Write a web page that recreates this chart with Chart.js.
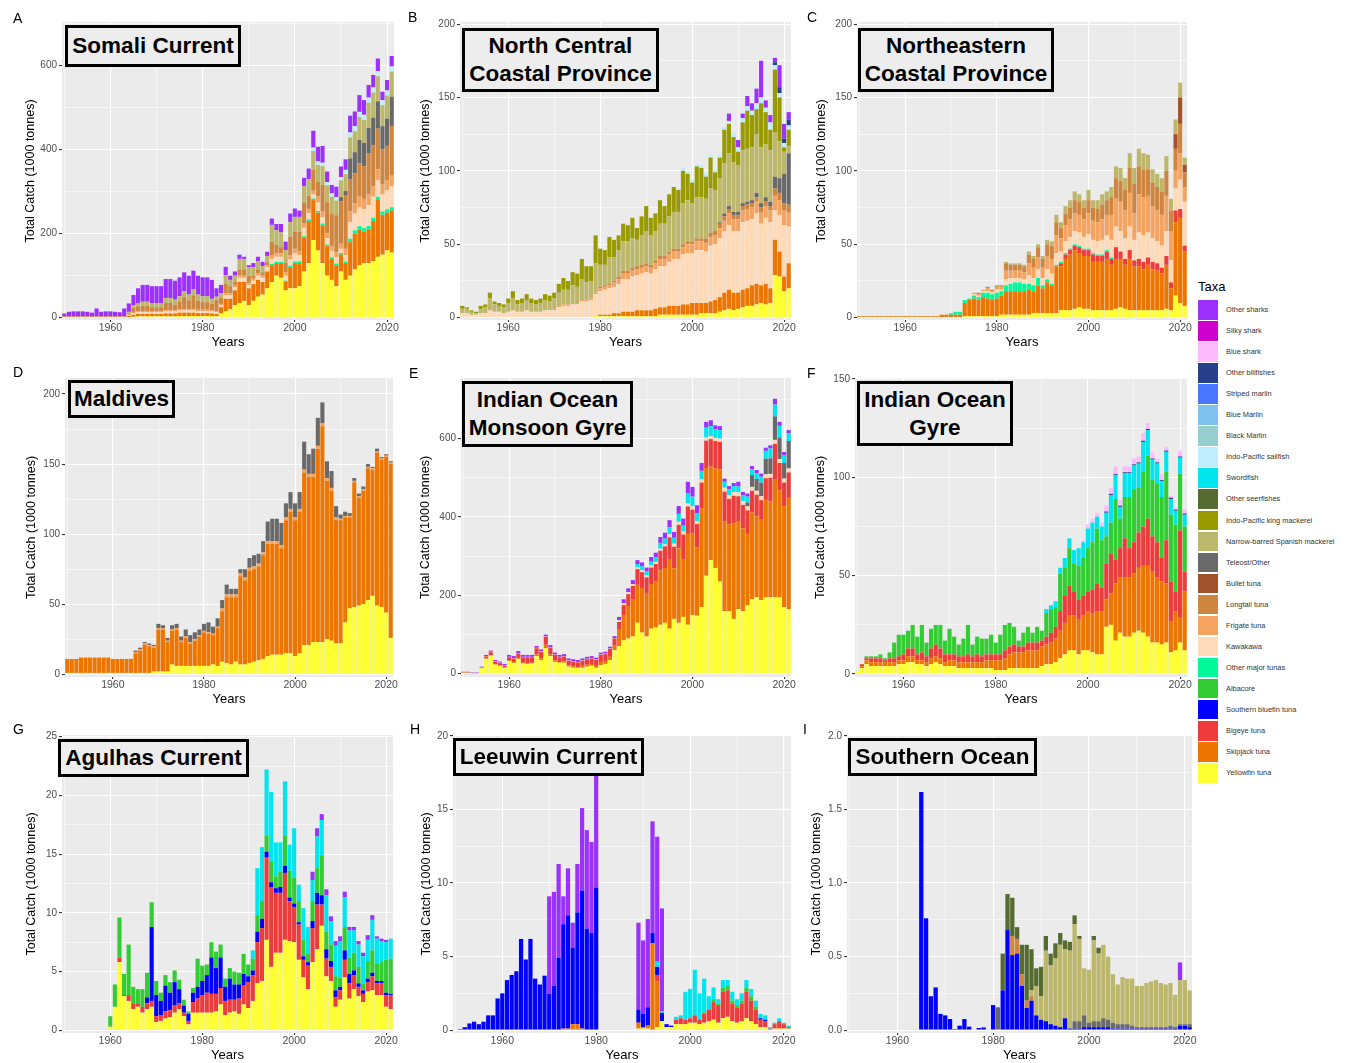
<!DOCTYPE html>
<html>
<head>
<meta charset="utf-8">
<script src="https://cdn.jsdelivr.net/npm/chart.js@4.4.1/dist/chart.umd.min.js"></script>
<style>
  body { margin: 0; background: #fff; width: 1351px; height: 1063px; overflow: hidden; position: relative;
         font-family: 'Liberation Sans', Arial, Helvetica, sans-serif; }
  canvas { position: absolute; }
  .tag { position: absolute; font-size: 14px; line-height: 14px; color: #000; }
  .box { position: absolute; z-index: 2; box-sizing: border-box; border: 3px solid #000; background: #EDEDED;
         display: flex; align-items: center; justify-content: center; text-align: center;
         font-weight: bold; font-size: 22.5px; line-height: 28px; color: #000; white-space: nowrap; }
  .ltitle { position: absolute; left: 1198px; top: 279px; font-size: 13px; color: #000; }
  .lkey { position: absolute; left: 1198px; width: 20px; height: 19.5px; }
  .ltext { position: absolute; left: 1226px; font-size: 7.4px; line-height: 19.5px; color: #333; white-space: nowrap; }
</style>
</head>
<body>
<script>
// ---------------------------------------------------------------
// Tuna / shark catch by taxon, nine Indian Ocean provinces
// values in 1000 tonnes, one bar per year 1950-2021
// ---------------------------------------------------------------

const YEARS = [
  1950,1951,1952,1953,1954,1955,1956,1957,1958,1959,
  1960,1961,1962,1963,1964,1965,1966,1967,1968,1969,
  1970,1971,1972,1973,1974,1975,1976,1977,1978,1979,
  1980,1981,1982,1983,1984,1985,1986,1987,1988,1989,
  1990,1991,1992,1993,1994,1995,1996,1997,1998,1999,
  2000,2001,2002,2003,2004,2005,2006,2007,2008,2009,
  2010,2011,2012,2013,2014,2015,2016,2017,2018,2019,
  2020,2021
];
const X_TICK_LABELS = ['1960', '1980', '2000', '2020'];

// legend order (top of legend = top of stack)
const TAXA = [
  'Other sharks', 'Silky shark', 'Blue shark', 'Other billfishes', 'Striped marlin', 'Blue Marlin',
  'Black Marlin', 'Indo-Pacific sailfish', 'Swordfish', 'Other seerfishes', 'Indo-Pacific king mackerel',
  'Narrow-barred Spanish mackerel', 'Teleost/Other', 'Bullet tuna', 'Longtail tuna', 'Frigate tuna',
  'Kawakawa', 'Other major tunas', 'Albacore', 'Southern bluefin tuna', 'Bigeye tuna', 'Skipjack tuna',
  'Yellowfin tuna'
];
const TAXA_COLORS = [
  '#9B30FF', '#CD00CD', '#FFBBFF', '#27408B', '#4876FF', '#7EC0EE',
  '#96CDCD', '#BFEFFF', '#00E5EE', '#556B2F', '#999900',
  '#BDB76B', '#696969', '#A0522D', '#CD853F', '#F4A460',
  '#FFDAB9', '#00FA9A', '#32CD32', '#0000FF', '#EE3B3B', '#EE7600',
  '#FFFF33'
];

// ---------------- A  Somali Current ----------------
const A_yellowfin = [0,0,0,0,0,0,0,0,0,0, 0,0,0,0,0,2,3,3,3,3, 3,3,3,3,3,4,4,4,4,4, 4,4,4,3,10,15,20,30,35,40,
  30,40,50,55,70,85,100,95,65,70, 70,75,110,130,185,160,130,100,90,75, 110,90,100,115,125,130,130,135,145,150, 160,155];
const A_skipjack = [3,3,3,3,3,3,3,3,3,3, 3,3,3,3,4,5,6,6,6,6, 6,6,7,7,7,8,8,8,8,7, 7,7,6,6,15,30,25,35,50,45,
  40,40,40,30,40,40,30,35,20,50, 60,55,80,100,95,90,90,70,50,50, 40,40,80,85,85,75,80,95,135,95, 90,100];
const A_othermajor = [0,0,0,0,0,0,0,0,0,0, 0,0,0,0,0,0,0,0,0,0, 0,0,0,0,0,0,0,0,0,0, 0,0,0,0,0,0,0,0,0,0,
  0,0,0,0,0,3,3,3,3,4, 4,4,4,4,4,4,4,4,4,4, 4,4,8,8,8,8,8,8,8,8, 8,8];
const A_kawakawa = [0,0,0,0,0,0,0,0,0,0, 0,0,0,0,2,3,4,4,4,4, 4,4,5,5,5,5,5,5,5,5, 5,5,5,4,5,8,8,8,10,10,
  8,8,10,10,10,12,12,12,12,15, 20,15,20,15,10,20,15,15,15,15, 10,15,40,40,45,45,50,50,40,40, 45,50];
const A_frigate = [0,0,0,0,0,0,0,0,0,0, 0,0,0,0,1,2,2,3,3,3, 3,3,3,3,3,3,3,3,3,3, 3,3,3,2,3,5,5,5,5,5,
  5,5,5,5,5,8,8,8,8,10, 10,10,10,10,8,15,15,12,12,12, 12,15,25,25,25,25,25,25,25,25, 25,25];
const A_longtail = [0,0,0,0,0,0,0,0,0,0, 0,0,0,0,3,11,12,12,12,9, 9,9,17,17,13,19,29,21,33,22, 18,18,15,27,15,23,17,7,15,15,
  17,7,10,8,7,33,20,15,23,44, 41,46,49,31,50,35,62,74,77,88, 101,128,76,71,80,78,99,98,97,83, 81,118];
const A_teleost = [0,0,0,0,0,0,0,0,0,0, 0,0,0,0,0,0,0,0,0,0, 0,0,0,0,0,0,0,0,0,0, 0,0,0,0,0,0,0,0,0,0,
  0,0,0,0,0,0,0,0,0,0, 0,0,0,0,0,0,0,0,0,0, 10,10,50,50,55,55,60,65,65,55, 65,70];
const A_narrowbarred = [0,0,0,0,0,0,0,0,0,0, 0,0,0,0,4,6,8,10,10,10, 10,10,12,12,12,12,14,14,14,14, 14,14,12,8,10,20,15,15,25,25,
  20,20,20,15,15,40,35,35,30,35, 35,35,40,40,45,40,45,40,40,35, 40,40,50,50,55,55,60,60,60,50, 55,60];
const A_sailfish = [0,0,0,0,0,0,0,0,0,0, 0,0,0,0,0,0,0,0,0,0, 0,0,0,0,0,0,0,0,0,0, 0,0,0,0,0,0,0,0,0,0,
  0,0,0,0,0,0,0,0,0,0, 0,0,0,0,8,8,8,8,8,8, 8,10,12,12,12,12,12,12,12,12, 12,12];
const A_othersharks = [7,11,12,12,12,11,9,19,11,12, 12,11,10,19,20,25,35,40,40,40, 40,40,45,45,45,45,45,45,45,45, 45,45,45,20,20,20,10,10,10,5,
  5,10,10,10,10,15,15,20,20,20, 20,15,20,25,40,35,40,25,20,25, 25,25,40,35,40,35,30,30,30,20, 25,25];
const A_YTICKS = [0, 100, 200, 300, 400, 500, 600, 700];
const A_YLABELS = ['0', '', '200', '', '400', '', '600', ''];

// ---------------- B  North Central Coastal Province ----------------
const B_yellowfin = [0,0,0,0,0,0,0,0,0,0, 0,0,0,0,0,0,0,0,0,0, 0,0,0,0,0,0,0,0,0,1, 1,1,1,1,1,1,1,1,1,1,
  1,1,1,2,2,2,2,2,2,2, 2,2,3,3,3,3,4,5,6,5, 6,7,8,8,9,10,9,10,29,28, 18,20];
const B_skipjack = [0,0,0,0,0,0,0,0,0,0, 0,0,0,0,0,0,0,0,0,0, 0,0,0,0,0,0,0,0,0,0, 1,1,1,2,2,3,3,3,4,4,
  4,4,5,5,5,6,6,6,7,7, 8,8,7,7,8,9,10,12,13,12, 11,12,12,14,14,12,14,10,24,17, 10,17];
const B_kawakawa = [3,3,2,2,3,3,5,4,4,3, 4,5,4,4,5,4,4,4,5,5, 5,7,8,8,9,9,11,11,12,15, 16,17,18,18,20,22,22,24,24,25,
  26,25,27,28,28,30,32,32,34,35, 34,36,36,35,38,38,40,42,44,42, 42,46,46,45,48,42,45,45,20,25, 35,25];
const B_frigate = [0,0,0,0,0,0,0,0,0,0, 0,0,0,0,0,0,0,0,0,0, 1,1,1,1,1,1,1,1,1,1, 2,2,2,3,3,4,4,4,4,4,
  4,4,4,5,5,5,5,5,5,6, 6,6,6,6,6,6,7,7,8,8, 8,8,8,8,8,8,8,8,10,10, 10,10];
const B_longtail = [0,0,0,0,0,0,0,0,0,0, 0,0,0,0,0,0,0,0,0,0, 0,0,0,0,0,0,0,0,0,0, 1,1,1,1,2,2,2,2,2,2,
  2,2,2,2,2,2,2,2,2,2, 2,2,2,3,3,3,3,3,3,3, 3,3,3,3,3,3,3,3,5,5, 5,5];
const B_teleost = [0,0,0,0,0,0,0,0,0,0, 0,0,0,0,0,0,0,0,0,0, 0,0,0,0,0,0,0,0,0,0, 0,0,0,0,0,0,0,0,0,0,
  0,0,0,0,0,0,0,0,0,0, 0,0,0,0,0,0,1,2,2,2, 2,2,2,2,3,3,3,3,8,10, 20,35];
const B_narrowbarred = [3,3,2,1,3,4,8,5,4,4, 6,8,5,6,7,6,5,6,7,6, 7,9,10,10,12,11,14,12,12,20, 15,14,18,16,18,20,20,20,18,20,
  22,20,20,22,22,24,25,25,28,28, 26,28,28,27,30,28,30,34,36,34, 32,36,36,36,40,38,36,35,30,25, 15,5];
const B_kingmackerel = [2,1,1,1,2,2,4,2,2,2, 3,5,3,3,4,3,3,3,4,4, 4,6,8,6,9,9,14,11,10,19, 11,10,14,12,10,12,11,14,8,13,
  17,12,12,16,12,15,17,15,22,18, 14,21,20,15,21,12,14,23,20,17, 9,19,26,22,17,30,22,14,43,30, 3,11];
const B_sailfish = [0,0,0,0,0,0,0,0,0,0, 0,0,0,0,0,0,0,0,0,0, 0,0,0,0,0,0,0,0,0,0, 0,0,0,0,0,0,0,0,0,0,
  0,0,0,0,0,0,0,1,2,2, 2,2,2,2,2,2,2,2,2,3, 3,3,3,3,4,4,3,5,3,3, 3,3];
const B_otherbillfishes = [0,0,0,0,0,0,0,0,0,0, 0,0,0,0,0,0,0,0,0,0, 0,0,0,0,0,0,0,0,0,0, 0,0,0,0,0,0,0,0,0,0,
  0,0,0,0,0,0,0,0,0,0, 0,0,0,0,0,0,0,0,0,0, 0,0,0,0,0,0,0,0,2,4, 3,4];
const B_othersharks = [0,0,0,0,0,0,0,0,0,0, 0,0,0,0,0,0,0,0,0,0, 0,0,0,0,0,0,0,0,0,0, 0,0,0,0,0,0,0,0,0,0,
  0,0,0,0,0,0,0,0,0,0, 0,0,0,0,0,0,0,0,5,0, 5,3,7,5,10,25,5,5,3,15, 10,5];
const B_YTICKS = [0, 25, 50, 75, 100, 125, 150, 175, 200];
const B_YLABELS = ['0', '', '50', '', '100', '', '150', '', '200'];

// ---------------- C  Northeastern Coastal Province ----------------
const C_yellowfin = [0,0,0,0,0,0,0,0,0,0, 0,0,0,0,0,0,0,0,0,0, 0,0,0,1,1,1,1,1,1,1, 1,2,2,2,2,2,2,2,3,3,
  3,3,3,3,5,5,5,6,7,6, 6,5,5,5,5,5,6,7,6,5, 5,5,5,5,5,5,5,6,5,15, 10,8];
const C_skipjack = [1,1,1,1,1,1,1,1,1,1, 1,1,1,1,1,1,1,1,2,2, 2,2,2,9,11,12,11,13,12,11, 12,13,16,16,16,16,16,17,15,19,
  17,21,19,32,30,35,38,40,37,36, 36,33,33,33,35,31,34,33,30,35, 30,30,28,31,28,27,25,30,15,50, 58,37];
const C_bigeye = [0,0,0,0,0,0,0,0,0,0, 0,0,0,0,0,0,0,0,0,0, 0,0,0,0,0,0,0,0,0,0, 0,0,0,0,0,0,0,0,0,0,
  0,0,0,0,2,3,3,3,4,4, 4,5,4,4,5,4,8,5,4,6, 4,5,5,5,5,5,4,6,4,8, 6,4];
const C_othermajor = [0,0,0,0,0,0,0,0,0,0, 0,0,0,0,0,0,0,0,0,0, 1,2,2,2,1,2,2,3,4,4, 4,3,4,5,6,6,5,4,4,5,
  2,2,1,1,1,1,1,1,1,1, 1,1,1,1,1,1,0,0,0,0, 0,0,0,0,0,0,0,0,0,0, 0,0];
const C_kawakawa = [0,0,0,0,0,0,0,0,0,0, 0,0,0,0,0,0,0,0,0,0, 0,0,0,0,0,1,1,1,1,1, 2,1,4,4,3,3,3,6,5,6,
  5,7,7,8,7,8,8,9,9,8, 10,9,9,10,10,12,14,14,14,16, 14,18,18,17,16,15,15,17,15,15, 20,30];
const C_frigate = [0,0,0,0,0,0,0,0,0,0, 0,0,0,0,0,0,0,0,0,0, 0,0,0,0,0,1,1,1,2,1, 2,2,6,5,5,5,5,8,7,8,
  7,9,10,12,9,11,12,12,12,12, 14,13,13,14,14,17,19,20,19,23, 18,26,26,25,22,21,21,24,20,12, 18,10];
const C_longtail = [0,0,0,0,0,0,0,0,0,0, 0,0,0,0,0,0,0,0,0,0, 0,0,0,0,0,0,1,0,1,1, 1,1,5,4,4,4,4,6,6,7,
  6,8,9,9,7,8,8,9,9,8, 9,9,9,10,10,12,14,14,14,17, 20,19,19,18,16,16,16,17,14,15, 20,10];
const C_bullet = [0,0,0,0,0,0,0,0,0,0, 0,0,0,0,0,0,0,0,0,0, 0,0,0,0,0,0,0,0,0,0, 0,0,0,0,0,0,0,0,0,0,
  0,0,0,0,0,0,0,0,0,0, 0,0,0,0,0,0,0,0,0,0, 0,0,0,0,0,0,0,0,0,10, 18,5];
const C_narrowbarred = [0,0,0,0,0,0,0,0,0,0, 0,0,0,0,0,0,0,0,0,0, 0,0,0,0,0,0,0,0,0,0, 0,0,1,1,1,1,1,2,2,2,
  2,3,3,5,4,5,5,6,5,5, 7,5,6,7,6,7,8,9,8,10, 11,12,11,10,9,9,9,10,8,10, 10,5];
const C_YTICKS = [0, 25, 50, 75, 100, 125, 150, 175, 200];
const C_YLABELS = ['0', '', '50', '', '100', '', '150', '', '200'];

// ---------------- D  Maldives ----------------
const D_yellowfin = [1,1,1,1,1,1,1,1,1,1, 1,1,1,1,1,1,1,1,1,2, 2,2,2,7,6,6,6,6,6,6, 6,6,7,6,9,8,7,9,7,7,
  8,9,10,11,13,14,14,14,15,15, 13,15,21,21,23,23,23,25,24,22, 22,37,47,48,49,50,53,56,49,48, 44,26];
const D_skipjack = [10,10,10,11,11,11,11,11,11,11, 10,10,10,10,10,14,16,20,19,17, 30,30,21,24,26,17,20,16,18,21, 24,23,21,27,36,47,48,46,63,60,
  66,66,67,74,80,79,79,76,95,101, 97,101,123,120,118,138,154,113,107,88, 88,75,65,89,77,81,94,90,109,105, 111,124];
const D_frigate = [0,0,0,0,0,0,0,0,0,0, 0,0,0,0,0,1,1,1,1,1, 1,1,1,1,1,1,1,1,1,1, 1,1,1,1,2,2,2,2,2,2,
  2,2,2,2,2,2,2,2,2,2, 2,2,2,2,2,2,2,2,2,2, 1,1,1,1,1,1,1,1,1,1, 1,1];
const D_teleost = [0,0,0,0,0,0,0,0,0,0, 0,0,0,0,0,1,1,1,1,1, 3,2,2,3,3,3,5,5,5,4, 5,7,5,6,6,7,4,4,3,6,
  7,8,7,8,14,16,16,16,10,12, 10,12,20,14,18,20,15,12,12,8, 3,3,2,2,2,2,2,1,2,1, 1,1];
const D_YTICKS = [0, 25, 50, 75, 100, 125, 150, 175, 200];
const D_YLABELS = ['0', '', '50', '', '100', '', '150', '', '200'];

// ---------------- E  Indian Ocean Monsoon Gyre ----------------
const E_yellowfin = [2,2,1,1,14,38,46,23,20,15, 32,27,38,26,25,26,45,35,65,45, 30,28,28,18,15,15,15,18,20,15, 22,25,35,60,70,85,90,95,130,105,
  95,115,118,125,130,115,140,130,145,125, 150,148,170,250,290,270,235,160,160,140, 165,160,175,190,195,188,195,195,195,195, 170,165];
const E_skipjack = [1,1,0,0,0,1,1,1,1,1, 2,2,2,2,2,2,4,4,9,4, 4,2,4,3,4,2,5,5,5,5, 8,7,8,12,42,65,83,94,97,114,
  109,114,117,139,140,178,129,190,148,232, 209,174,253,275,239,254,287,230,221,244, 223,211,182,222,207,205,249,245,302,273, 258,284];
const E_bigeye = [1,1,1,1,2,5,8,7,6,5, 8,10,12,14,15,14,16,17,20,18, 14,12,12,12,12,12,13,14,14,15, 18,18,20,18,20,25,30,35,40,40,
  42,42,45,50,55,55,55,60,62,70, 60,60,65,70,70,70,70,75,65,70, 65,60,60,55,55,50,55,60,90,70, 60,65];
const E_kawakawa = [0,0,0,0,1,1,1,1,1,1, 1,1,1,1,1,1,1,1,1,1, 1,1,1,1,1,1,1,1,1,1, 1,1,1,1,5,5,5,5,5,5,
  5,5,5,5,5,8,8,8,8,8, 8,8,8,8,8,8,8,10,10,10, 10,10,10,10,10,10,10,10,10,10, 10,10];
const E_teleost = [0,0,0,0,0,0,0,0,0,0, 0,0,0,0,0,0,0,0,0,0, 0,0,0,0,0,0,0,0,0,0, 0,0,0,0,0,0,0,0,0,0,
  0,0,0,0,0,0,0,0,0,0, 0,0,0,0,0,0,0,0,0,0, 0,0,10,30,30,35,40,40,60,55, 40,70];
const E_swordfish = [0,0,0,0,0,0,0,0,0,0, 0,0,0,0,0,0,0,0,0,0, 0,0,0,0,0,0,0,0,0,0, 0,0,0,0,0,0,0,0,8,10,
  10,10,12,15,15,18,15,20,15,25, 25,20,22,25,25,22,22,15,15,15, 15,15,15,15,15,15,20,25,30,30, 20,20];
const E_othersharks = [1,1,1,1,1,3,3,3,3,3, 5,5,5,5,5,5,5,5,5,5, 5,5,5,5,5,5,5,5,5,5, 5,5,5,5,8,10,10,10,10,10,
  10,12,12,15,15,18,15,20,18,30, 25,20,20,15,15,10,10,8,8,8, 12,8,8,8,8,8,8,8,15,10, 8,8];
const E_YTICKS = [0, 100, 200, 300, 400, 500, 600, 700];
const E_YLABELS = ['0', '', '200', '', '400', '', '600', ''];

// ---------------- F  Indian Ocean Gyre ----------------
const F_yellowfin = [1,3,5,4,4,4,4,4,4,5, 5,6,6,5,5,4,5,6,5,4, 4,4,3,3,3,3,3,3,3,3, 2,2,2,3,3,3,3,3,3,3,
  4,5,5,6,8,10,12,12,10,12, 12,11,10,10,24,25,17,21,19,19, 21,22,21,19,16,16,15,16,11,12, 16,12];
const F_skipjack = [0,1,2,2,2,2,2,2,2,2, 2,3,3,2,2,2,3,3,3,2, 3,3,3,3,3,3,3,3,4,4, 5,5,6,7,8,8,8,9,9,9,
  10,10,11,12,14,16,18,18,18,18, 20,20,22,22,14,16,29,28,30,30, 30,32,34,36,36,33,32,30,16,20, 13,30];
const F_bigeye = [0,1,1,2,2,2,1,2,2,2, 3,4,4,3,4,3,5,6,5,4, 3,3,3,3,4,3,4,3,3,3, 3,3,4,4,4,3,3,4,4,4,
  3,4,5,6,10,14,15,12,10,10, 10,12,14,12,18,20,12,15,20,15, 16,18,20,24,18,18,12,22,20,10, 44,10];
const F_albacore = [0,0,1,1,1,2,1,3,8,11, 10,9,12,9,14,7,10,10,12,7, 13,9,6,9,15,6,9,9,8,10, 6,10,13,12,9,3,7,8,5,8,
  5,12,12,10,19,14,19,14,17,19, 22,24,28,24,14,16,31,15,21,26, 27,23,28,32,29,30,31,35,34,34, 29,23];
const F_swordfish = [0,0,0,0,0,0,0,0,0,0, 0,0,0,0,0,0,0,0,0,0, 0,0,0,0,0,0,0,0,0,0, 0,0,0,0,0,0,0,0,0,0,
  0,2,2,3,3,5,5,7,9,8, 10,10,6,7,12,14,12,6,12,12, 12,12,15,13,10,10,8,10,8,7, 8,6];
const F_blueshark = [0,0,0,0,0,0,0,0,0,0, 0,0,0,0,0,0,0,0,0,0, 0,0,0,0,0,0,0,0,0,0, 0,0,0,0,0,0,0,0,0,0,
  0,0,0,0,0,0,0,0,0,1, 2,2,2,2,3,3,4,3,3,3, 3,3,4,3,3,2,3,2,1,1, 3,2];
const F_otherbillfishes = [0,0,0,0,0,0,0,0,0,0, 0,0,0,0,0,0,0,0,0,0, 0,0,0,0,0,0,0,0,0,0, 0,0,0,0,0,0,0,0,0,0,
  0,0,0,0,0,0,0,0,0,0, 0,0,0,0,0.6,0.6,0.6,0.6,0.6,0.6, 0.6,0.6,0.6,0.6,0.6,0.6,0.6,0.6,0.6,0.6, 0.6,0.6];
const F_YTICKS = [0, 25, 50, 75, 100, 125, 150];
const F_YLABELS = ['0', '', '50', '', '100', '', '150'];

// ---------------- G  Agulhas Current ----------------
const G_yellowfin = [0,0,0,0,0,0,0,0,0,0, 0.3,2,5.8,2.9,2.5,1.8,2,1.5,1.8,2, 0.7,0.8,1,1.1,1.5,1.8,1.2,0.5,1.5,1.5,
  1.5,1.5,1.5,1.6,2.2,1.3,1.5,1.6,1.4,2.2, 1.9,2.5,4,4.2,7.7,5.4,6.6,6.6,7.7,7.6, 7.5,6,4.5,3.5,5.8,6.9,8.9,4.6,4.2,2,
  2.6,4.5,2.7,3.5,2.9,2.4,3.3,3.4,3,3, 2,1.8];
const G_bigeye = [0,0,0,0,0,0,0,0,0,0, 0,0,0.4,0.1,0.5,0.5,0.3,0.5,0.5,0.5, 0.5,0.5,0.6,0.6,0.6,0.5,0.3,0.3,0.9,1.2,
  1.5,1.7,1.6,1.5,1.4,1.2,1.1,1.0,1.3,1.6, 2.2,2.2,3.5,4.5,7,6.8,5.1,5.1,5.7,3.4, 3,3,1.5,2,2.9,3.8,1.8,1.5,1.2,0.8,
  0.8,1.5,1.3,1.2,0.8,0.7,0.8,1.2,1,1, 1,1.2];
const G_southernbluefin = [0,0,0,0,0,0,0,0,0,0, 0,0,0,0,0,0,0,0,0.5,6.3, 1.8,1.2,2.2,1.5,2,1.2,0.6,0.6,0.8,1,
  1.2,1.5,3.1,2.2,2.6,1.2,1.8,1.3,1.2,1.0, 0.5,0.4,0.9,0.8,0.5,0.4,0.4,0.5,0.6,0.3, 0.3,0.2,0.3,0.3,0.6,1.0,0.8,0.8,0.5,0.6,
  0.3,0.8,0.8,0.4,0.3,0.3,0.3,0.3,0.2,0.2, 0.2,0.1];
const G_albacore = [0,0,0,0,0,0,0,0,0,0, 0.9,1.9,3.4,1.8,4.3,1.4,1.2,1.5,2.1,2.1, 1.2,0.7,0.9,0.9,1,0.8,0.5,0.2,0.4,2.4,
  1.3,0.9,1.3,1.4,1.1,0.7,0.9,1.1,1.0,1.7, 1.0,1.0,1.4,1.5,1.4,1.8,1.0,1.3,2.6,2.3, 2.2,1.8,1.4,0.7,1.7,2.1,3.4,1.5,1.4,1.2,
  0.8,2,1.4,1.5,1.4,0.6,1.5,1.9,1.5,1.6, 2.8,3];
const G_swordfish = [0,0,0,0,0,0,0,0,0,0, 0,0,0,0,0,0,0,0,0,0, 0,0,0,0,0,0,0,0,0,0, 0,0,0,0,0,0,0,0,0,0,
  0,0.7,4.0,4.6,5.6,5.9,2.9,2.5,4.6,2.2, 4.2,1.4,2.7,2.3,1.8,2.7,3.0,3.1,2.0,2.6, 3.1,2.5,2.3,1.9,1.9,2.3,1.8,2.6,2.1,1.8, 1.5,1.7];
const G_othersharks = [0,0,0,0,0,0,0,0,0,0, 0,0,0,0,0,0,0,0,0,0, 0,0,0,0,0,0,0,0,0,0, 0,0,0,0,0,0,0,0,0,0,
  0,0,0,0,0,0,0,0,0,0, 0,0,0,0,0.7,0.7,0.5,0.5,0.4,0.4, 0.4,0.5,0.3,0.3,0.3,0.3,0.4,0.4,0.2,0.2, 0.2,0];
const G_YTICKS = [0, 2.5, 5, 7.5, 10, 12.5, 15, 17.5, 20, 22.5, 25];
const G_YLABELS = ['0', '', '5', '', '10', '', '15', '', '20', '', '25'];

// ---------------- H  Leeuwin Current ----------------
const H_yellowfin = [0,0,0,0,0,0,0,0,0,0, 0,0,0,0,0,0,0,0,0,0, 0,0,0,0,0,0,0,0,0,0, 0,0,0,0,0,0,0,0,0,0.1,
  0.1,0.1,0,0.2,0.6,0.2,0.2,0.4,0.4,0.4, 0.5,0.5,0.4,0.5,0.6,0.7,0.5,0.8,0.9,0.6, 0.5,0.6,0.8,0.6,0.4,0.2,0.2,0,0.1,0.1, 0.1,0.1];
const H_skipjack = [0,0,0,0,0,0,0,0,0,0, 0,0,0,0,0,0,0,0,0,0, 0,0,0,0.1,0.1,0.4,0.4,0.1,0,0, 0,0,0,0,0,0,0,0,0,0.4,
  0.1,0.2,5.9,3.1,0,0,0,0,0,0, 0,0,0,0,0,0,0,0,0,0, 0,0,0,0,0,0,0,0,0,0, 0,0];
const H_bigeye = [0,0,0,0,0,0,0,0,0,0, 0,0,0,0,0,0,0,0,0,0, 0,0,0,0,0,0,0,0,0,0, 0,0,0,0,0,0,0,0,0,0,
  0,0,0,0.45,0,0,0,0.3,0.4,0.3, 0.3,0.5,0.3,0.6,0.8,1.2,1.2,1.8,1.8,1.2, 1.0,1.2,1.8,1.4,1.0,0.5,0.4,0.1,0.3,0.5, 0.3,0.1];
const H_southernbluefin = [0,0.07,0.2,0.45,0.57,0.4,0.57,1.0,1.0,2.15, 2.5,3.4,3.75,4.0,6.2,4.8,6.2,3.5,3.1,3.7,
  2.45,3.0,4.9,7.1,7.7,5.2,7.6,9.4,6.9,6.6, 9.7,0,0,0,0,0,0,0,0,0.9, 0.9,1.25,0.7,0.55,0.57,0.2,0.1,0,0,0,
  0,0,0,0,0,0,0,0,0,0, 0,0,0,0,0,0.1,0.1,0,0,0, 0,0];
const H_albacore = [0,0,0,0,0,0,0,0,0,0, 0,0,0,0,0,0,0,0,0,0, 0,0,0,0,0,0,0,0,0,0, 0,0,0,0,0,0,0,0,0,0,
  0,0,0,0,0,0,0,0,0,0, 0,0,0,0.1,0,0.2,0.1,0.3,0.3,0.2, 0.2,0.2,0.3,0.3,0.2,0,0,0,0,0, 0,0];
const H_swordfish = [0,0,0,0,0,0,0,0,0,0, 0,0,0,0,0,0,0,0,0,0, 0,0,0,0,0,0,0,0,0,0, 0,0,0,0,0,0,0,0,0,0,
  0,0,0,0.35,0.1,0,0,0.2,0.2,1.9, 2.0,3.1,1.8,2.3,0.9,0.8,0.3,0.5,0.4,0.6, 0.4,0.5,0.5,0.5,0.4,0.3,0.3,0.1,0.1,0.2, 0.1,0.1];
const H_othersharks = [0,0,0,0,0,0,0,0,0,0, 0,0,0,0,0,0,0,0,0,0, 6.65,6.4,6.4,1.9,3.2,1.7,3.3,5.6,6.7,6.2, 7.6,0,0,0,0,0,0,0,0,5.9,
  5.0,6.0,7.6,8.5,7.0,0,0,0,0,0, 0,0,0,0,0,0,0,0,0,0, 0,0,0,0,0,0,0,0,0,0, 0,0];
const H_YTICKS = [0, 2.5, 5, 7.5, 10, 12.5, 15, 17.5, 20];
const H_YLABELS = ['0', '', '5', '', '10', '', '15', '', '20'];

// ---------------- I  Southern Ocean ----------------
const I_southernbluefin = [0,0,0,0,0,0,0,0,0,0, 0,0,0,0,0,1.62,0.76,0.23,0.29,0.11, 0.10,0.075,0.007,0.03,0.075,0.023,0,0.014,0.018,0,
  0.17,0,0.27,0.68,0.51,0.52,0.3,0.15,0.2,0.1, 0.07,0.06,0.04,0.03,0.02,0.08,0.01,0.01,0.01,0.02,
  0.02,0.02,0.02,0.02,0.02,0.01,0.01,0.01,0.01,0.01, 0.01,0.01,0.01,0.01,0.01,0.01,0.01,0.01,0.01,0.03, 0.03,0.02];
const I_teleost = [0,0,0,0,0,0,0,0,0,0, 0,0,0,0,0,0,0,0,0,0, 0,0,0,0,0,0,0,0,0,0, 0,0.155,0,0,0,0,0,0,0,0,
  0,0,0,0,0,0,0,0.05,0.05,0.08, 0.03,0.04,0.04,0.06,0.05,0.04,0.03,0.03,0.03,0.02, 0.01,0.01,0.01,0.01,0.01,0.01,0.01,0.02,0.01,0.01, 0.01,0.02];
const I_longtail = [0,0,0,0,0,0,0,0,0,0, 0,0,0,0,0,0,0,0,0,0, 0,0,0,0,0,0,0,0,0,0, 0,0,0,0,0.13,0.1,0.08,0.05,0.03,0,
  0,0,0,0,0,0,0,0,0,0, 0,0,0,0,0,0,0,0,0,0, 0,0,0,0,0,0,0,0,0,0, 0,0];
const I_otherseerfishes = [0,0,0,0,0,0,0,0,0,0, 0,0,0,0,0,0,0,0,0,0, 0,0,0,0,0,0,0,0,0,0, 0,0,0.25,0.245,0.26,0.08,0.2,0.38,0.28,0.12,
  0.2,0.1,0.08,0.1,0.08,0.06,0.06,0.06,0.02,0, 0,0.03,0.04,0,0,0,0,0,0,0, 0,0,0,0,0,0,0,0,0,0, 0,0];
const I_narrowbarred = [0,0,0,0,0,0,0,0,0,0, 0,0,0,0,0,0,0,0,0,0, 0,0,0,0,0,0,0,0,0,0, 0,0,0,0,0,0,0,0,0.04,0.2,
  0.16,0.48,0.4,0.46,0.56,0.47,0.53,0.66,0.56,0.32, 0.36,0.55,0.46,0.5,0.43,0.33,0.27,0.32,0.31,0.32,
  0.28,0.28,0.3,0.31,0.32,0.3,0.29,0.29,0.22,0.3, 0.3,0.23];
const I_othersharks = [0,0,0,0,0,0,0,0,0,0, 0,0,0,0,0,0,0,0,0,0, 0,0,0,0,0,0,0,0,0,0, 0,0,0,0,0,0,0,0,0,0,
  0,0,0,0,0,0,0,0,0,0, 0,0,0,0,0,0,0,0,0,0, 0,0,0,0,0,0,0,0,0,0.12, 0,0];
const I_YTICKS = [0, 0.25, 0.5, 0.75, 1.0, 1.25, 1.5, 1.75, 2.0];
const I_YLABELS = ['0.0', '', '0.5', '', '1.0', '', '1.5', '', '2.0'];

// ---------------------------------------------------------------
// Layout
// ---------------------------------------------------------------
const ROWS = [
  { top: 22, bottom: 320, cbottom: 350 },
  { top: 378, bottom: 677, cbottom: 707 },
  { top: 735, bottom: 1033, cbottom: 1063 }
];

const PANELS = [
  { tag: 'A', tagPos: [13, 11], title: ['Somali Current'], box: [65, 25, 176, 42],
    row: 0, L: 19, pl: 62, pr: 394, min: -5.5, max: 704, yticks: A_YTICKS, ylabels: A_YLABELS,
    series: { 'Yellowfin tuna': A_yellowfin, 'Skipjack tuna': A_skipjack, 'Other major tunas': A_othermajor,
      'Kawakawa': A_kawakawa, 'Frigate tuna': A_frigate, 'Longtail tuna': A_longtail, 'Teleost/Other': A_teleost,
      'Narrow-barred Spanish mackerel': A_narrowbarred, 'Indo-Pacific sailfish': A_sailfish, 'Other sharks': A_othersharks } },
  { tag: 'B', tagPos: [408, 10], title: ['North Central', 'Coastal Province'], box: [462, 28, 197, 64],
    row: 0, L: 414, pl: 460, pr: 791, min: -1.6, max: 201.4, yticks: B_YTICKS, ylabels: B_YLABELS,
    series: { 'Yellowfin tuna': B_yellowfin, 'Skipjack tuna': B_skipjack, 'Kawakawa': B_kawakawa, 'Frigate tuna': B_frigate,
      'Longtail tuna': B_longtail, 'Teleost/Other': B_teleost, 'Narrow-barred Spanish mackerel': B_narrowbarred,
      'Indo-Pacific king mackerel': B_kingmackerel, 'Indo-Pacific sailfish': B_sailfish,
      'Other billfishes': B_otherbillfishes, 'Other sharks': B_othersharks } },
  { tag: 'C', tagPos: [807, 10], title: ['Northeastern', 'Coastal Province'], box: [858, 28, 196, 64],
    row: 0, L: 810, pl: 857, pr: 1187, min: -1.6, max: 201.4, yticks: C_YTICKS, ylabels: C_YLABELS,
    series: { 'Yellowfin tuna': C_yellowfin, 'Skipjack tuna': C_skipjack, 'Bigeye tuna': C_bigeye,
      'Other major tunas': C_othermajor, 'Kawakawa': C_kawakawa, 'Frigate tuna': C_frigate, 'Longtail tuna': C_longtail,
      'Bullet tuna': C_bullet, 'Narrow-barred Spanish mackerel': C_narrowbarred } },
  { tag: 'D', tagPos: [13, 365], title: ['Maldives'], box: [68, 380, 107, 38],
    row: 1, L: 20, pl: 65, pr: 393, min: -1.9, max: 211.4, yticks: D_YTICKS, ylabels: D_YLABELS,
    series: { 'Yellowfin tuna': D_yellowfin, 'Skipjack tuna': D_skipjack, 'Frigate tuna': D_frigate, 'Teleost/Other': D_teleost } },
  { tag: 'E', tagPos: [409, 366], title: ['Indian Ocean', 'Monsoon Gyre'], box: [462, 381, 171, 66],
    row: 1, L: 414, pl: 461, pr: 791, min: -8.4, max: 755, yticks: E_YTICKS, ylabels: E_YLABELS,
    series: { 'Yellowfin tuna': E_yellowfin, 'Skipjack tuna': E_skipjack, 'Bigeye tuna': E_bigeye, 'Kawakawa': E_kawakawa,
      'Teleost/Other': E_teleost, 'Swordfish': E_swordfish, 'Other sharks': E_othersharks } },
  { tag: 'F', tagPos: [807, 366], title: ['Indian Ocean', 'Gyre'], box: [857, 381, 156, 65],
    row: 1, L: 809, pl: 855, pr: 1187, min: -1.5, max: 150.5, yticks: F_YTICKS, ylabels: F_YLABELS,
    series: { 'Yellowfin tuna': F_yellowfin, 'Skipjack tuna': F_skipjack, 'Bigeye tuna': F_bigeye, 'Albacore': F_albacore,
      'Swordfish': F_swordfish, 'Other billfishes': F_otherbillfishes, 'Blue shark': F_blueshark } },
  { tag: 'G', tagPos: [13, 722], title: ['Agulhas Current'], box: [58, 739, 191, 38],
    row: 2, L: 20, pl: 62, pr: 393, min: -0.23, max: 25.14, yticks: G_YTICKS, ylabels: G_YLABELS,
    series: { 'Yellowfin tuna': G_yellowfin, 'Bigeye tuna': G_bigeye, 'Southern bluefin tuna': G_southernbluefin,
      'Albacore': G_albacore, 'Swordfish': G_swordfish, 'Other sharks': G_othersharks } },
  { tag: 'H', tagPos: [410, 722], title: ['Leeuwin Current'], box: [453, 738, 191, 38],
    row: 2, L: 415, pl: 453, pr: 791, min: -0.2, max: 20.07, yticks: H_YTICKS, ylabels: H_YLABELS,
    series: { 'Yellowfin tuna': H_yellowfin, 'Skipjack tuna': H_skipjack, 'Bigeye tuna': H_bigeye,
      'Southern bluefin tuna': H_southernbluefin, 'Albacore': H_albacore, 'Swordfish': H_swordfish, 'Other sharks': H_othersharks } },
  { tag: 'I', tagPos: [803, 722], title: ['Southern Ocean'], box: [848, 738, 189, 38],
    row: 2, L: 805, pl: 847, pr: 1192, min: -0.02, max: 2.007, yticks: I_YTICKS, ylabels: I_YLABELS,
    series: { 'Southern bluefin tuna': I_southernbluefin, 'Longtail tuna': I_longtail, 'Teleost/Other': I_teleost,
      'Narrow-barred Spanish mackerel': I_narrowbarred, 'Other seerfishes': I_otherseerfishes, 'Other sharks': I_othersharks } }
];

// ---------------------------------------------------------------
Chart.defaults.font.family = "'Liberation Sans', Arial, Helvetica, sans-serif";

const COLOR_OF = {};
TAXA.forEach((t, i) => { COLOR_OF[t] = TAXA_COLORS[i]; });
const STACK_ORDER = TAXA.slice().reverse();   // first dataset sits at the bottom

const panelBg = {
  id: 'panelBg',
  beforeDraw(chart) {
    const { ctx, chartArea: a } = chart;
    ctx.save();
    ctx.fillStyle = '#EBEBEB';
    ctx.fillRect(a.left, a.top, a.right - a.left, a.bottom - a.top);
    ctx.restore();
  }
};

const NONE = 'rgba(0,0,0,0)';

function buildPanel(p) {
  const row = ROWS[p.row];
  const ctop = row.top - 10;
  const w = p.pr + 5 - p.L;
  const h = row.cbottom - ctop;

  const canvas = document.createElement('canvas');
  canvas.width = w; canvas.height = h;
  canvas.style.left = p.L + 'px'; canvas.style.top = ctop + 'px';
  canvas.style.width = w + 'px'; canvas.style.height = h + 'px';
  document.body.appendChild(canvas);

  const datasets = STACK_ORDER.filter(name => p.series[name]).map(name => ({
    label: name, data: p.series[name], backgroundColor: COLOR_OF[name],
    borderWidth: 0, barPercentage: 0.9, categoryPercentage: 1.0, stack: 'catch'
  }));

  const xKind = i => {
    const y = String(YEARS[i]);
    if (X_TICK_LABELS.includes(y)) return 2;
    return (YEARS[i] % 20 === 10) ? 1 : 0;
  };
  const yMajor = i => p.ylabels[i] !== undefined && p.ylabels[i] !== '';

  new Chart(canvas, {
    type: 'bar',
    data: { labels: YEARS.map(String), datasets },
    plugins: [panelBg],
    options: {
      responsive: false,
      devicePixelRatio: 1,
      animation: false,
      events: [],
      layout: { padding: { top: 10, right: 5, left: 0, bottom: 0 } },
      plugins: { legend: { display: false }, tooltip: { enabled: false } },
      scales: {
        x: {
          stacked: true,
          offset: true,
          border: { display: false },
          grid: {
            offset: false,
            color: c => xKind(c.index) ? '#FFFFFF' : NONE,
            lineWidth: c => [0, 0.55, 1.1][xKind(c.index)],
            tickColor: c => xKind(c.index) === 2 ? '#333333' : NONE,
            tickLength: 2
          },
          ticks: {
            autoSkip: false, maxRotation: 0, minRotation: 0, padding: 0.5,
            color: '#4D4D4D', font: { size: 10.5, lineHeight: 1 },
            callback: (v, i) => X_TICK_LABELS.includes(String(YEARS[i])) ? String(YEARS[i]) : ''
          },
          title: { display: true, text: 'Years', color: '#000', font: { size: 13 }, padding: { top: 0, bottom: 0 } },
          afterFit: s => { s.height = row.cbottom - row.bottom; }
        },
        y: {
          stacked: true,
          min: p.min, max: p.max,
          bounds: 'data',
          border: { display: false },
          grid: {
            color: '#FFFFFF',
            lineWidth: c => yMajor(c.index) ? 1.1 : 0.55,
            tickColor: c => yMajor(c.index) ? '#333333' : NONE,
            tickLength: 3
          },
          ticks: {
            padding: 2, color: '#4D4D4D', font: { size: 10 },
            callback: (v, i) => p.ylabels[i]
          },
          afterBuildTicks: s => { s.ticks = p.yticks.map(v => ({ value: v })); },
          title: { display: true, text: 'Total Catch (1000 tonnes)', color: '#000', font: { size: 12.5 }, padding: { top: 4, bottom: 0 } },
          afterFit: s => { s.width = p.pl - p.L; }
        }
      }
    }
  });

  // panel letter
  const t = document.createElement('div');
  t.className = 'tag';
  t.style.left = p.tagPos[0] + 'px'; t.style.top = p.tagPos[1] + 'px';
  t.textContent = p.tag;
  document.body.appendChild(t);

  // region title box
  const b = document.createElement('div');
  b.className = 'box';
  b.style.left = p.box[0] + 'px'; b.style.top = p.box[1] + 'px';
  b.style.width = p.box[2] + 'px'; b.style.height = p.box[3] + 'px';
  b.innerHTML = p.title.join('<br>');
  document.body.appendChild(b);
}

PANELS.forEach(buildPanel);

// shared legend
const lt = document.createElement('div');
lt.className = 'ltitle';
lt.textContent = 'Taxa';
document.body.appendChild(lt);
TAXA.forEach((name, i) => {
  const top = 300 + i * 21.05;
  const k = document.createElement('div');
  k.className = 'lkey';
  k.style.top = top + 'px';
  k.style.background = TAXA_COLORS[i];
  document.body.appendChild(k);
  const tx = document.createElement('div');
  tx.className = 'ltext';
  tx.style.top = top + 'px';
  tx.textContent = name;
  document.body.appendChild(tx);
});
</script>
</body>
</html>
